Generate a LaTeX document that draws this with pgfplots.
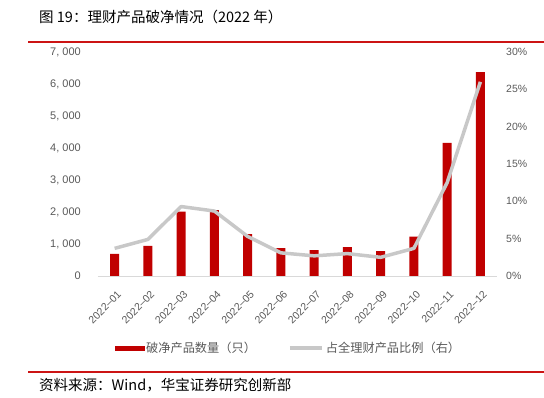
\documentclass[border=0pt]{standalone}
\usepackage{fontspec}
\setmainfont{Liberation Sans}
\newfontfamily\cjk{Noto Sans CJK SC}
\usepackage{pgfplots}
\pgfplotsset{compat=1.18}
\definecolor{barred}{RGB}{192,0,0}
\definecolor{linegray}{RGB}{200,200,200}
\definecolor{tickgray}{RGB}{89,89,89}
\definecolor{rulered}{RGB}{204,20,20}
\begin{document}
\begin{tikzpicture}
\useasboundingbox (0pt,0pt) rectangle (544pt,-398pt);
\node[anchor=west,inner sep=0pt,font=\cjk\fontsize{14.5}{16}\selectfont] at (39pt,-17pt) {图 19：理财产品破净情况（2022 年）};
\draw[rulered,line width=2pt] (28pt,-42pt) -- (544pt,-42pt);
\draw[rulered,line width=2pt] (28pt,-372pt) -- (544pt,-372pt);
\node[anchor=west,inner sep=0pt,font=\cjk\fontsize{14.5}{16}\selectfont] at (39pt,-385pt) {资料来源：Wind，华宝证券研究创新部};
\begin{axis}[at={(98pt,-276pt)}, anchor=south west, scale only axis,
  width=399pt, height=224pt,
  xmin=-0.5, xmax=11.5, ymin=0, ymax=7000,
  axis x line*=bottom, axis y line*=left,
  x axis line style={draw=black!15, line width=0.8pt, -},
  y axis line style={draw=none},
  major tick length=0pt,
  xtick={0,...,11},
  xticklabels={2022–01,2022–02,2022–03,2022–04,2022–05,2022–06,2022–07,2022–08,2022–09,2022–10,2022–11,2022–12},
  xticklabel style={xshift=2pt, yshift=-14pt, rotate=45, anchor=north east, inner sep=0pt, font=\fontsize{10.5}{12}\selectfont, text=tickgray},
  ytick={0,1000,...,7000},
  yticklabels={0,{1, 000},{2, 000},{3, 000},{4, 000},{5, 000},{6, 000},{7, 000}},
  yticklabel style={font=\fontsize{11}{12}\selectfont, text=tickgray, inner sep=0pt, xshift=-17pt},
  /pgf/number format/assume math mode=true,
]
\addplot[ybar, bar width=9pt, fill=barred, draw=none] coordinates {
(0,690) (1,940) (2,2010) (3,2060) (4,1310) (5,870) (6,810) (7,900) (8,780) (9,1230) (10,4160) (11,6375)};
\end{axis}
\begin{axis}[at={(98pt,-276pt)}, anchor=south west, scale only axis,
  width=399pt, height=224pt,
  xmin=-0.5, xmax=11.5, ymin=0, ymax=30,
  axis x line=none, axis y line*=right,
  y axis line style={draw=none},
  major tick length=0pt,
  ytick={0,5,...,30},
  yticklabel={\pgfmathprintnumber{\tick}\%},
  yticklabel style={font=\fontsize{10.5}{12}\selectfont, text=tickgray, inner sep=0pt, xshift=9pt},
  /pgf/number format/assume math mode=true,
  legend style={at={(0.4774,-0.321)}, anchor=center, draw=none, fill=none,
    font=\cjk\fontsize{12.2}{14}\selectfont, text=tickgray, legend columns=2,
    /tikz/every even column/.append style={column sep=30pt}},
  legend cell align=left,
]
\addlegendimage{legend image code/.code={\fill[barred] (0pt,-2pt) rectangle (29pt,2pt);}}
\addlegendentry{破净产品数量（只）}
\addplot[linegray, line width=3.5pt, line join=round, legend image code/.code={\draw[linegray,line width=4pt] (0pt,0pt) -- (32pt,0pt);}] coordinates {
(0,3.7) (1,4.9) (2,9.3) (3,8.7) (4,5.3) (5,3.1) (6,2.7) (7,3.0) (8,2.5) (9,3.7) (10,12.5) (11,26.0)};
\addlegendentry{占全理财产品比例（右）}
\end{axis}
\end{tikzpicture}
\end{document}
